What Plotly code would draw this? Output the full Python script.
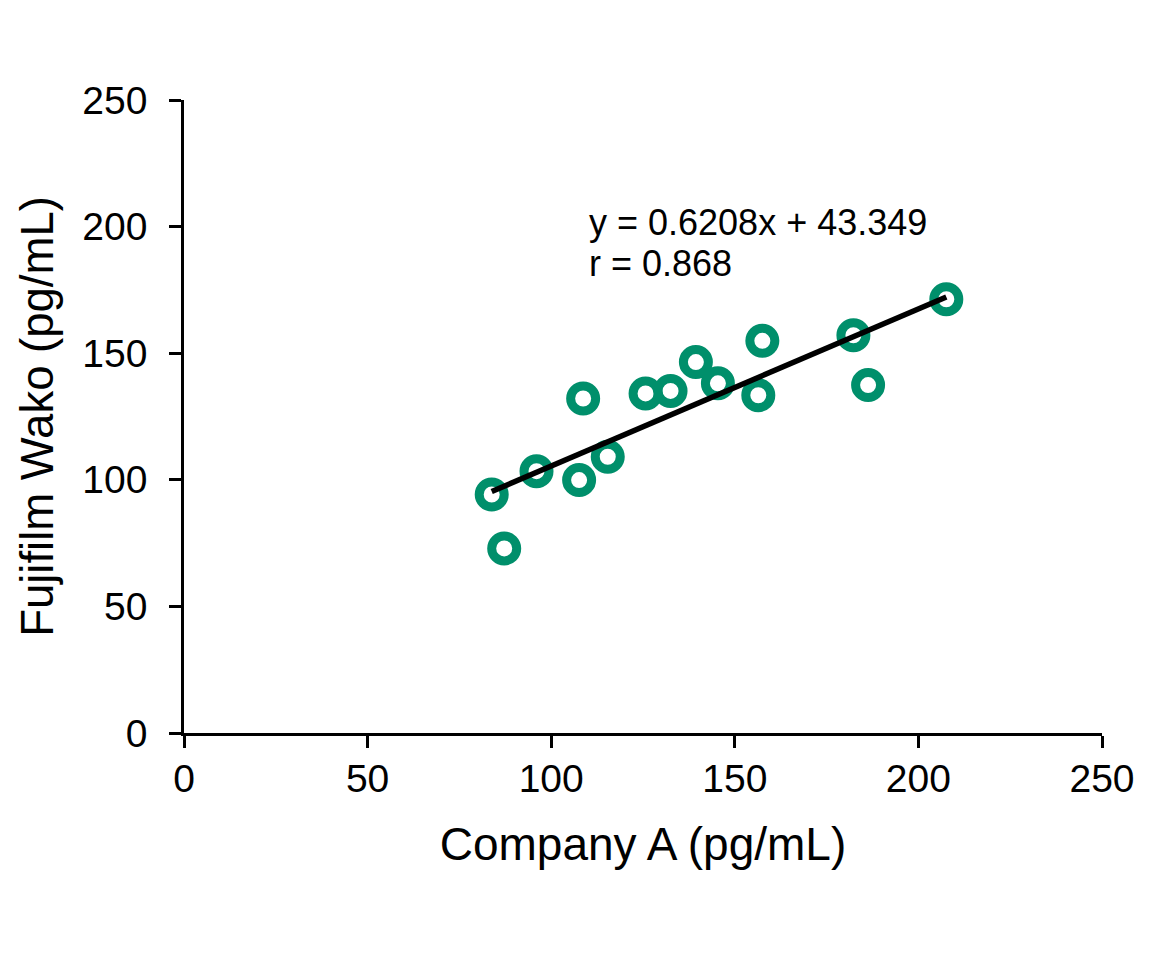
import plotly.graph_objects as go
import numpy as np

# values
company_a = [83.8, 87.2, 96.0, 107.6, 108.7, 115.4, 125.7, 132.5,
             139.4, 145.4, 156.4, 157.5, 182.3, 186.3, 207.6]
fujifilm_wako = [94.2, 72.9, 103.4, 99.9, 132.1, 109.1, 134.1, 135.1,
                 146.5, 138.1, 133.4, 154.9, 157.1, 137.4, 171.3]

slope = 0.6208
intercept = 43.349
r_value = 0.868

axis_ticks = [0, 50, 100, 150, 200, 250]

FONT = "Liberation Sans, Arial, sans-serif"
GREEN = "#008F6B"

trend_x = np.array([min(company_a), max(company_a)])
trend_y = slope * trend_x + intercept

fig = go.Figure()

fig.add_trace(go.Scatter(
    x=company_a,
    y=fujifilm_wako,
    mode="markers",
    marker=dict(symbol="circle-open", size=25, color=GREEN,
                line=dict(width=9, color=GREEN)),
    showlegend=False,
))

fig.add_trace(go.Scatter(
    x=trend_x,
    y=trend_y,
    mode="lines",
    line=dict(color="black", width=5.5),
    showlegend=False,
))

fig.add_annotation(
    x=109.7, y=201.5, xref="x", yref="y",
    text=f"y = {slope}x + {intercept}",
    showarrow=False, xanchor="left", yanchor="middle",
    font=dict(family=FONT, size=36, color="black"),
)
fig.add_annotation(
    x=109.7, y=185.5, xref="x", yref="y",
    text=f"r = {r_value}",
    showarrow=False, xanchor="left", yanchor="middle",
    font=dict(family=FONT, size=36, color="black"),
)

axis_style = dict(
    range=[0, 250],
    tickvals=axis_ticks,
    showgrid=False,
    zeroline=False,
    showline=True,
    linecolor="black",
    linewidth=2.5,
    ticks="outside",
    ticklen=12,
    tickwidth=2.5,
    tickcolor="black",
    tickfont=dict(family=FONT, size=39, color="black"),
)

fig.update_xaxes(
    **axis_style,
    ticklabelstandoff=-3,
    title=dict(text="Company A (pg/mL)", standoff=30,
               font=dict(family=FONT, size=46, color="black")),
)
fig.update_yaxes(
    **axis_style,
    ticklabelstandoff=14,
    title=dict(text="Fujifilm Wako (pg/mL)", standoff=15,
               font=dict(family=FONT, size=45.5, color="black")),
)

# page body adds an 8px offset, so margins are shifted to compensate
fig.update_layout(
    width=1160,
    height=955,
    margin=dict(l=176, r=66, t=92, b=230),
    plot_bgcolor="white",
    paper_bgcolor="white",
    font=dict(family=FONT, color="black"),
)

fig.write_html("out.html")
